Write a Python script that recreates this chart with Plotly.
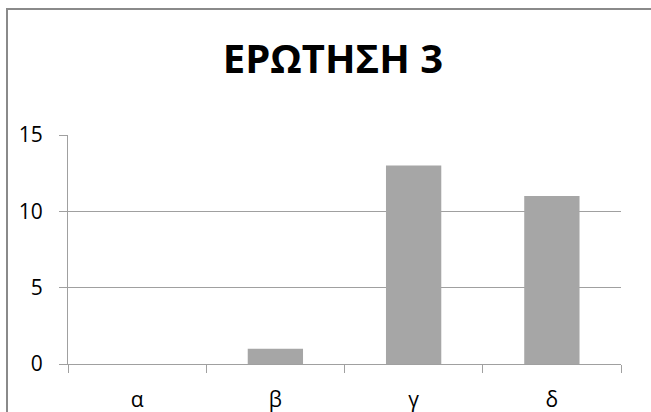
import plotly.graph_objects as go

categories = ["α", "β", "γ", "δ"]
values = [0, 1, 13, 11]
y_ticks = [0, 5, 10, 15]

FONT = "Open Sans"
GRID = "#a0a0a0"

fig = go.Figure()
fig.add_trace(go.Bar(
    x=list(range(len(categories))),
    y=values,
    width=0.4,
    marker=dict(color="#a6a6a6", line=dict(width=0)),
))

fig.update_layout(
    width=651, height=412,
    margin=dict(l=68, r=30, t=135, b=48, autoexpand=False),
    paper_bgcolor="white", plot_bgcolor="white",
    showlegend=False,
    title=dict(text="<b>ΕΡΩΤΗΣΗ 3</b>", x=333 / 651, xanchor="center",
               y=1 - 59 / 412, yanchor="middle",
               font=dict(family=FONT, size=40, color="black")),
    font=dict(family=FONT, color="black"),
)

fig.update_xaxes(
    range=[-0.5, len(categories) - 0.5],
    tickmode="array",
    tickvals=list(range(len(categories))),
    ticktext=categories,
    ticks="", showgrid=False, zeroline=False,
    showline=True, linecolor=GRID, linewidth=1,
    tickfont=dict(family=FONT, size=21, color="black"),
    minor=dict(tickmode="array",
               tickvals=[i - 0.5 for i in range(len(categories) + 1)],
               ticks="outside", ticklen=8, tickcolor=GRID, tickwidth=1,
               showgrid=False),
    ticklabelstandoff=17,
    automargin=False,
)

fig.update_yaxes(
    range=[0, 15],
    tickmode="array", tickvals=y_ticks,
    showgrid=True, gridcolor=GRID, gridwidth=1,
    zeroline=False,
    showline=True, linecolor=GRID, linewidth=1,
    ticks="outside", ticklen=8, tickcolor=GRID, tickwidth=1,
    tickfont=dict(family=FONT, size=21, color="black"),
    ticklabelstandoff=12,
    automargin=False,
)

# outer chart border (extends beyond the visible window on right/bottom)
fig.add_shape(type="rect", xref="paper", yref="paper",
              x0=(7 - 68) / 553, x1=(700 - 68) / 553,
              y0=(364 - 450) / 229, y1=(364 - 9) / 229,
              line=dict(color="#8a8a8a", width=2), fillcolor="rgba(0,0,0,0)",
              layer="below")

fig.write_html("out.html",
               config={"displayModeBar": False},
               post_script="document.body.style.margin='0';document.body.style.overflow='hidden';")
